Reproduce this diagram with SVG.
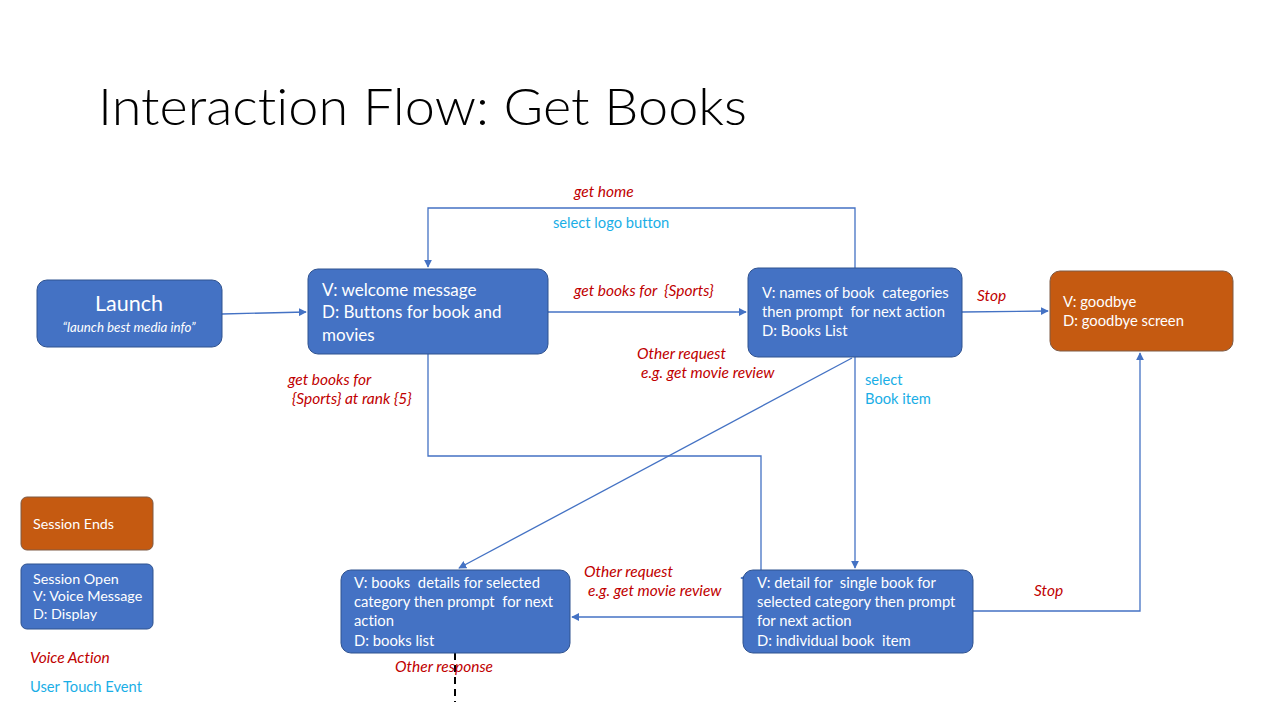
<svg xmlns="http://www.w3.org/2000/svg" width="1280" height="720" viewBox="0 0 1280 720">
<defs>
<marker id="arr" viewBox="0 0 10 10" refX="9" refY="5" markerWidth="8" markerHeight="8" markerUnits="userSpaceOnUse" orient="auto">
<path d="M0,0 L10,5 L0,10 z" fill="#4472C4"/>
</marker>
<style>
text{font-variant-ligatures:none;white-space:pre}
.blue{fill:#4472C4;stroke:#2F528F;stroke-width:1}
.orange{fill:#C55A11;stroke:#7F5A44;stroke-width:1}
.t{font-family:Lato,"Liberation Sans",sans-serif;fill:#FFFFFF;font-size:14.8px}
.big{font-size:17px}
.lg{font-size:14.3px}
.c{fill:none;stroke:#4472C4;stroke-width:1.3}
.v{font-family:Lato,"Liberation Sans",sans-serif;font-style:italic;fill:#C00000;font-size:15.5px}
.u{font-family:Lato,"Liberation Sans",sans-serif;fill:#1AAEE6;font-size:14.7px}
</style>
</defs>
<rect width="1280" height="720" fill="#FFFFFF"/>
<text x="98" y="125" font-family="Lato,'Liberation Sans',sans-serif" font-weight="300" font-size="52" fill="#000000" textLength="649" lengthAdjust="spacingAndGlyphs">Interaction Flow: Get Books</text>

<g id="connectors">
<path class="c" d="M222,314 L306,312" marker-end="url(#arr)"/>
<path class="c" d="M548,312 L746,312" marker-end="url(#arr)"/>
<path class="c" d="M855,268 V208 H428 V267" marker-end="url(#arr)"/>
<path class="c" d="M962,312 L1048,311" marker-end="url(#arr)"/>
<path class="c" d="M855,357 V568" marker-end="url(#arr)"/>
<path class="c" d="M852,358 L459,568" marker-end="url(#arr)"/>
<path class="c" d="M428,354 V456 H761 V572"/>
<path class="c" d="M750,578 L741,578" marker-end="url(#arr)"/>
<path class="c" d="M743,617 L572,617" marker-end="url(#arr)"/>
<path class="c" d="M973,611 H1140 V353" marker-end="url(#arr)"/>
<path d="M455,653 V702" fill="none" stroke="#000000" stroke-width="2" stroke-dasharray="7,5"/>
</g>

<g id="launch">
<rect class="blue" x="37" y="280" width="185" height="67" rx="10"/>
<text class="t" x="129" y="311" style="font-size:21.5px" text-anchor="middle">Launch</text>
<text class="t" x="129" y="332" style="font-size:13.3px;font-style:italic" text-anchor="middle">“launch best media info”</text>
</g>

<g id="welcome">
<rect class="blue" x="308" y="269" width="240" height="85" rx="10"/>
<text class="t big" x="322" y="296">V: welcome message</text>
<text class="t big" x="322" y="318">D: Buttons for book and</text>
<text class="t big" x="322" y="341">movies</text>
</g>

<g id="categories">
<rect class="blue" x="748" y="268" width="214" height="89" rx="10"/>
<text class="t" x="762" y="298">V: names of book  categories</text>
<text class="t" x="762" y="317">then prompt  for next action</text>
<text class="t" x="762" y="336">D: Books List</text>
</g>

<g id="goodbye">
<rect class="orange" x="1050" y="271" width="183" height="80" rx="10"/>
<text class="t" x="1063" y="307">V: goodbye</text>
<text class="t" x="1063" y="326">D: goodbye screen</text>
</g>

<g id="books-details">
<rect class="blue" x="341" y="570" width="229" height="83" rx="10"/>
<text class="t" x="354" y="588">V: books  details for selected</text>
<text class="t" x="354" y="607">category then prompt  for next</text>
<text class="t" x="354" y="626">action</text>
<text class="t" x="354" y="646">D: books list</text>
</g>

<g id="book-detail">
<rect class="blue" x="743" y="570" width="230" height="83" rx="10"/>
<text class="t" x="757" y="588">V: detail for  single book for</text>
<text class="t" x="757" y="607">selected category then prompt</text>
<text class="t" x="757" y="626">for next action</text>
<text class="t" x="757" y="646">D: individual book  item</text>
</g>

<g id="legend-ends">
<rect class="orange" x="21" y="497" width="132" height="53" rx="6"/>
<text class="t lg" x="33" y="529">Session Ends</text>
</g>

<g id="legend-open">
<rect class="blue" x="21" y="564" width="132" height="65" rx="6"/>
<text class="t lg" x="33" y="584">Session Open</text>
<text class="t lg" x="33" y="601">V: Voice Message</text>
<text class="t lg" x="33" y="619">D: Display</text>
</g>

<g id="labels">
<text class="v" x="574" y="197">get home</text>
<text class="u" x="553" y="228">select logo button</text>
<text class="v" x="574" y="296">get books for  {Sports}</text>
<text class="v" x="977" y="301">Stop</text>
<text class="v" x="637" y="359">Other request</text>
<text class="v" x="641" y="378">e.g. get movie review</text>
<text class="u" x="865" y="385">select</text>
<text class="u" x="865" y="404">Book item</text>
<text class="v" x="288" y="385">get books for</text>
<text class="v" x="292" y="404">{Sports} at rank {5}</text>
<text class="v" x="584" y="577">Other request</text>
<text class="v" x="588" y="596">e.g. get movie review</text>
<text class="v" x="1034" y="596">Stop</text>
<text class="v" x="395" y="672">Other response</text>
<text class="v" x="30" y="663">Voice Action</text>
<text class="u" x="30" y="692">User Touch Event</text>
</g>
</svg>
